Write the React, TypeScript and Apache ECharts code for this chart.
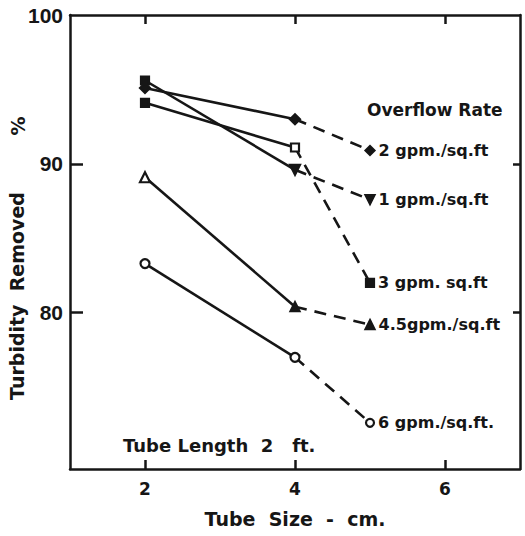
import React, { useEffect, useRef } from "react";
import * as echarts from "echarts";

// Tube size (cm) at which each overflow rate was measured
const tubeSizes = [2, 4, 5];

// Overflow-rate labels
const rateLabels = ["2 gpm./sq.ft", "1 gpm./sq.ft", "3 gpm. sq.ft", "4.5gpm./sq.ft", "6 gpm./sq.ft."];

// Turbidity removed (%) for each overflow rate, at tube sizes 2, 4, 5 cm
const removed2gpm = [95.1, 93.0, 90.9];
const removed1gpm = [95.6, 89.6, 87.6];
const removed3gpm = [94.1, 91.1, 82.0];
const removed45gpm = [89.1, 80.4, 79.2];
const removed6gpm = [83.3, 77.0, 72.6];

// Axis ticks
const xTickValues = [2, 4, 6];
const yLabelValues = [80, 90, 100];
const yTickValues = [80, 90];

const INK = "#161616";
const BOLD = "DejaVu Sans";

type MarkerSpec = { symbols: string[]; rotations: number[]; filled: boolean[]; sizes: number[] };

const markerSpecs: MarkerSpec[] = [
  { symbols: ["diamond", "diamond", "diamond"], rotations: [0, 0, 0], filled: [true, true, true], sizes: [10, 10, 9] },
  { symbols: ["rect", "triangle", "triangle"], rotations: [0, 180, 180], filled: [true, true, true], sizes: [8, 10, 9] },
  { symbols: ["rect", "rect", "rect"], rotations: [0, 0, 0], filled: [true, false, true], sizes: [8, 8, 8] },
  { symbols: ["triangle", "triangle", "triangle"], rotations: [0, 0, 0], filled: [false, true, true], sizes: [10, 9, 9] },
  { symbols: ["circle", "circle", "circle"], rotations: [0, 0, 0], filled: [false, false, false], sizes: [9, 9, 8] },
];

const allValues = [removed2gpm, removed1gpm, removed3gpm, removed45gpm, removed6gpm];

function buildSeries(): any[] {
  const out: any[] = [];
  allValues.forEach((values, s) => {
    const spec = markerSpecs[s];
    const pt = (i: number) => ({
      value: [tubeSizes[i], values[i]],
      symbol: spec.symbols[i],
      symbolRotate: spec.rotations[i],
      symbolSize: spec.sizes[i],
      itemStyle: { color: spec.filled[i] ? INK : "#ffffff", borderColor: INK, borderWidth: 2.2 },
    });
    out.push({
      type: "line",
      name: rateLabels[s],
      data: [pt(0), pt(1)],
      lineStyle: { color: INK, width: 2.6, type: "solid" },
      z: 3,
      silent: true,
    });
    out.push({
      type: "line",
      name: rateLabels[s] + " (extrapolated)",
      data: [
        { ...pt(1), symbol: "none" },
        {
          ...pt(2),
          label: {
            show: true,
            position: "right",
            distance: 3,
            formatter: rateLabels[s],
            color: INK,
            fontFamily: BOLD,
            fontWeight: "bold",
            fontSize: 16,
          },
        },
      ],
      lineStyle: { color: INK, width: 2.6, type: [12, 8] },
      z: 2,
      silent: true,
    });
  });
  return out;
}

export default function App() {
  const ref = useRef<HTMLDivElement>(null);
  useEffect(() => {
    if (!ref.current) return;
    const chart = echarts.init(ref.current, null, { renderer: "svg" });
    const axisLine = { show: true, lineStyle: { color: INK, width: 2.5 } };
    chart.setOption({
      animation: false,
      backgroundColor: "#ffffff",
      grid: { left: 70, right: 5, top: 15, bottom: 67, containLabel: false },
      xAxis: [
        {
          type: "value",
          min: 1,
          max: 7,
          position: "bottom",
          axisLine,
          axisTick: { show: true, inside: true, length: 9, customValues: xTickValues, lineStyle: { color: INK, width: 2.5 } },
          axisLabel: { customValues: xTickValues, margin: 11, color: INK, fontFamily: BOLD, fontWeight: "bold", fontSize: 17 },
          splitLine: { show: false },
          name: "Tube  Size  -  cm.",
          nameLocation: "middle",
          nameGap: 40,
          nameTextStyle: { color: INK, fontFamily: BOLD, fontWeight: "bold", fontSize: 19 },
        },
        {
          type: "value",
          min: 1,
          max: 7,
          position: "top",
          axisLine,
          axisTick: { show: true, inside: true, length: 9, customValues: xTickValues, lineStyle: { color: INK, width: 2.5 } },
          axisLabel: { show: false },
          splitLine: { show: false },
        },
      ],
      yAxis: [
        {
          type: "value",
          min: 69.5,
          max: 100,
          position: "left",
          axisLine,
          axisTick: { show: true, inside: true, length: 13, customValues: yTickValues, lineStyle: { color: INK, width: 2.5 } },
          axisLabel: { customValues: yLabelValues, margin: 7, color: INK, fontFamily: "Liberation Sans", fontWeight: "bold", fontSize: 21 },
          splitLine: { show: false },
        },
        {
          type: "value",
          min: 69.5,
          max: 100,
          position: "right",
          axisLine,
          axisTick: { show: true, inside: true, length: 7, customValues: yTickValues, lineStyle: { color: INK, width: 2.5 } },
          axisLabel: { show: false },
          splitLine: { show: false },
        },
      ],
      graphic: [
        {
          type: "text",
          x: 17,
          y: 296,
          rotation: Math.PI / 2,
          style: {
            text: "Turbidity  Removed",
            fill: INK,
            font: `bold 19px "${BOLD}"`,
            align: "center",
            verticalAlign: "middle",
            textAlign: "center",
            textVerticalAlign: "middle",
          },
        },
        {
          type: "text",
          x: 18,
          y: 126,
          rotation: Math.PI / 2,
          style: {
            text: "%",
            fill: INK,
            font: `bold 19px "${BOLD}"`,
            align: "center",
            verticalAlign: "middle",
            textAlign: "center",
            textVerticalAlign: "middle",
          },
        },
        {
          type: "text",
          x: 367,
          y: 110,
          style: {
            text: "Overflow Rate",
            fill: INK,
            font: `bold 17px "${BOLD}"`,
            align: "left",
            verticalAlign: "middle",
            textAlign: "left",
            textVerticalAlign: "middle",
          },
        },
        {
          type: "text",
          x: 123,
          y: 445,
          style: {
            text: "Tube Length  2   ft.",
            fill: INK,
            font: `bold 18px "${BOLD}"`,
            align: "left",
            verticalAlign: "middle",
            textAlign: "left",
            textVerticalAlign: "middle",
          },
        },
      ],
      series: buildSeries(),
    });
    return () => chart.dispose();
  }, []);
  return <div ref={ref} style={{ position: "fixed", left: 0, top: 0, width: 525, height: 536 }} />;
}
